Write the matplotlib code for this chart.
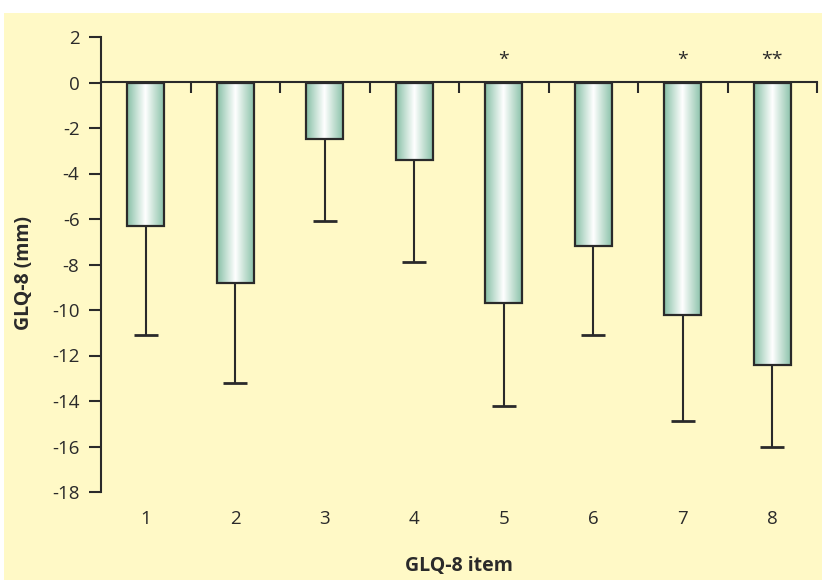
import numpy as np
import matplotlib.pyplot as plt
from matplotlib.colors import LinearSegmentedColormap
from matplotlib.patches import Rectangle

# Dati
items = [1, 2, 3, 4, 5, 6, 7, 8]
means = [-6.3, -8.8, -2.5, -3.4, -9.7, -7.2, -10.2, -12.4]
errors = [4.8, 4.4, 3.6, 4.5, 4.5, 3.9, 4.7, 3.6]
stars = ['', '', '', '', '*', '', '*', '**']
yticks = [2, 0, -2, -4, -6, -8, -10, -12, -14, -16, -18]

bg = '#fff9c6'
dark = '#2a2a2a'
plt.rcParams['font.family'] = ['Open Sans', 'DejaVu Sans']

fig = plt.figure(figsize=(8.22, 5.80), dpi=100)
fig.patches.append(Rectangle((4/822, 0), 1, 1 - 13/580, transform=fig.transFigure,
                             facecolor=bg, edgecolor='none', zorder=-10))

ax = fig.add_axes([101/822, 1 - 492/580, 716/822, 455/580])
ax.set_facecolor('none')
ax.set_xlim(0.5, 8.5)
ax.set_ylim(-18, 2)

# Barre con sfumatura
cmap = LinearSegmentedColormap.from_list('bar', ['#86bfa6', '#c4e0d3', '#ffffff', '#c4e0d3', '#8cc3ab'])
grad = np.linspace(0, 1, 256).reshape(1, -1)
width = 0.41
bars = ax.bar(items, means, width=width, color='none', edgecolor=dark, linewidth=1.6, zorder=3)
for b in bars:
    x0, y0 = b.get_x(), b.get_y()
    w, h = b.get_width(), b.get_height()
    im = ax.imshow(grad, cmap=cmap, aspect='auto', extent=[x0, x0 + w, y0 + h, y0],
                   zorder=2)
    im.set_clip_path(b)

lower = [m - e for m, e in zip(means, errors)]
ax.vlines(items, lower, means, color=dark, linewidth=1.5, zorder=1)
ax.errorbar(items, lower, xerr=0.135, fmt='none', ecolor=dark, elinewidth=2, zorder=1)

for x, s in zip(items, stars):
    if s:
        ax.text(x, 1.0, s, ha='center', va='center', fontsize=14, color=dark)

# Assi
for side in ['top', 'right', 'bottom']:
    ax.spines[side].set_visible(False)
ax.spines['left'].set_color(dark)
ax.spines['left'].set_linewidth(1.5)
ax.set_yticks(yticks)
ax.set_yticklabels([str(t) for t in yticks])
ax.tick_params(axis='y', length=8.5, width=1.5, color=dark, labelsize=13.5, pad=7, labelcolor=dark)
ax.set_xticks(items)
ax.tick_params(axis='x', length=0, labelsize=13.5, pad=13, labelcolor=dark)

sec = ax.secondary_xaxis(0.9)
sec.set_xticks([i + 0.5 for i in items])
sec.set_xticklabels([])
sec.tick_params(axis='x', direction='in', length=8, width=1.5, color=dark)
sec.spines['bottom'].set_color(dark)
sec.spines['bottom'].set_linewidth(1.5)
sec.spines['top'].set_color(dark)
sec.spines['top'].set_linewidth(1.5)

ax.set_ylabel('GLQ-8 (mm)', fontsize=14, fontweight='bold', color=dark, va='center')
ax.yaxis.set_label_coords(-0.1075, 0.481)
ax.set_xlabel('GLQ-8 item', fontsize=14, fontweight='bold', color=dark, va='center')
ax.xaxis.set_label_coords(0.5, -0.163)

fig.savefig('out.png', dpi=100, facecolor='white')
